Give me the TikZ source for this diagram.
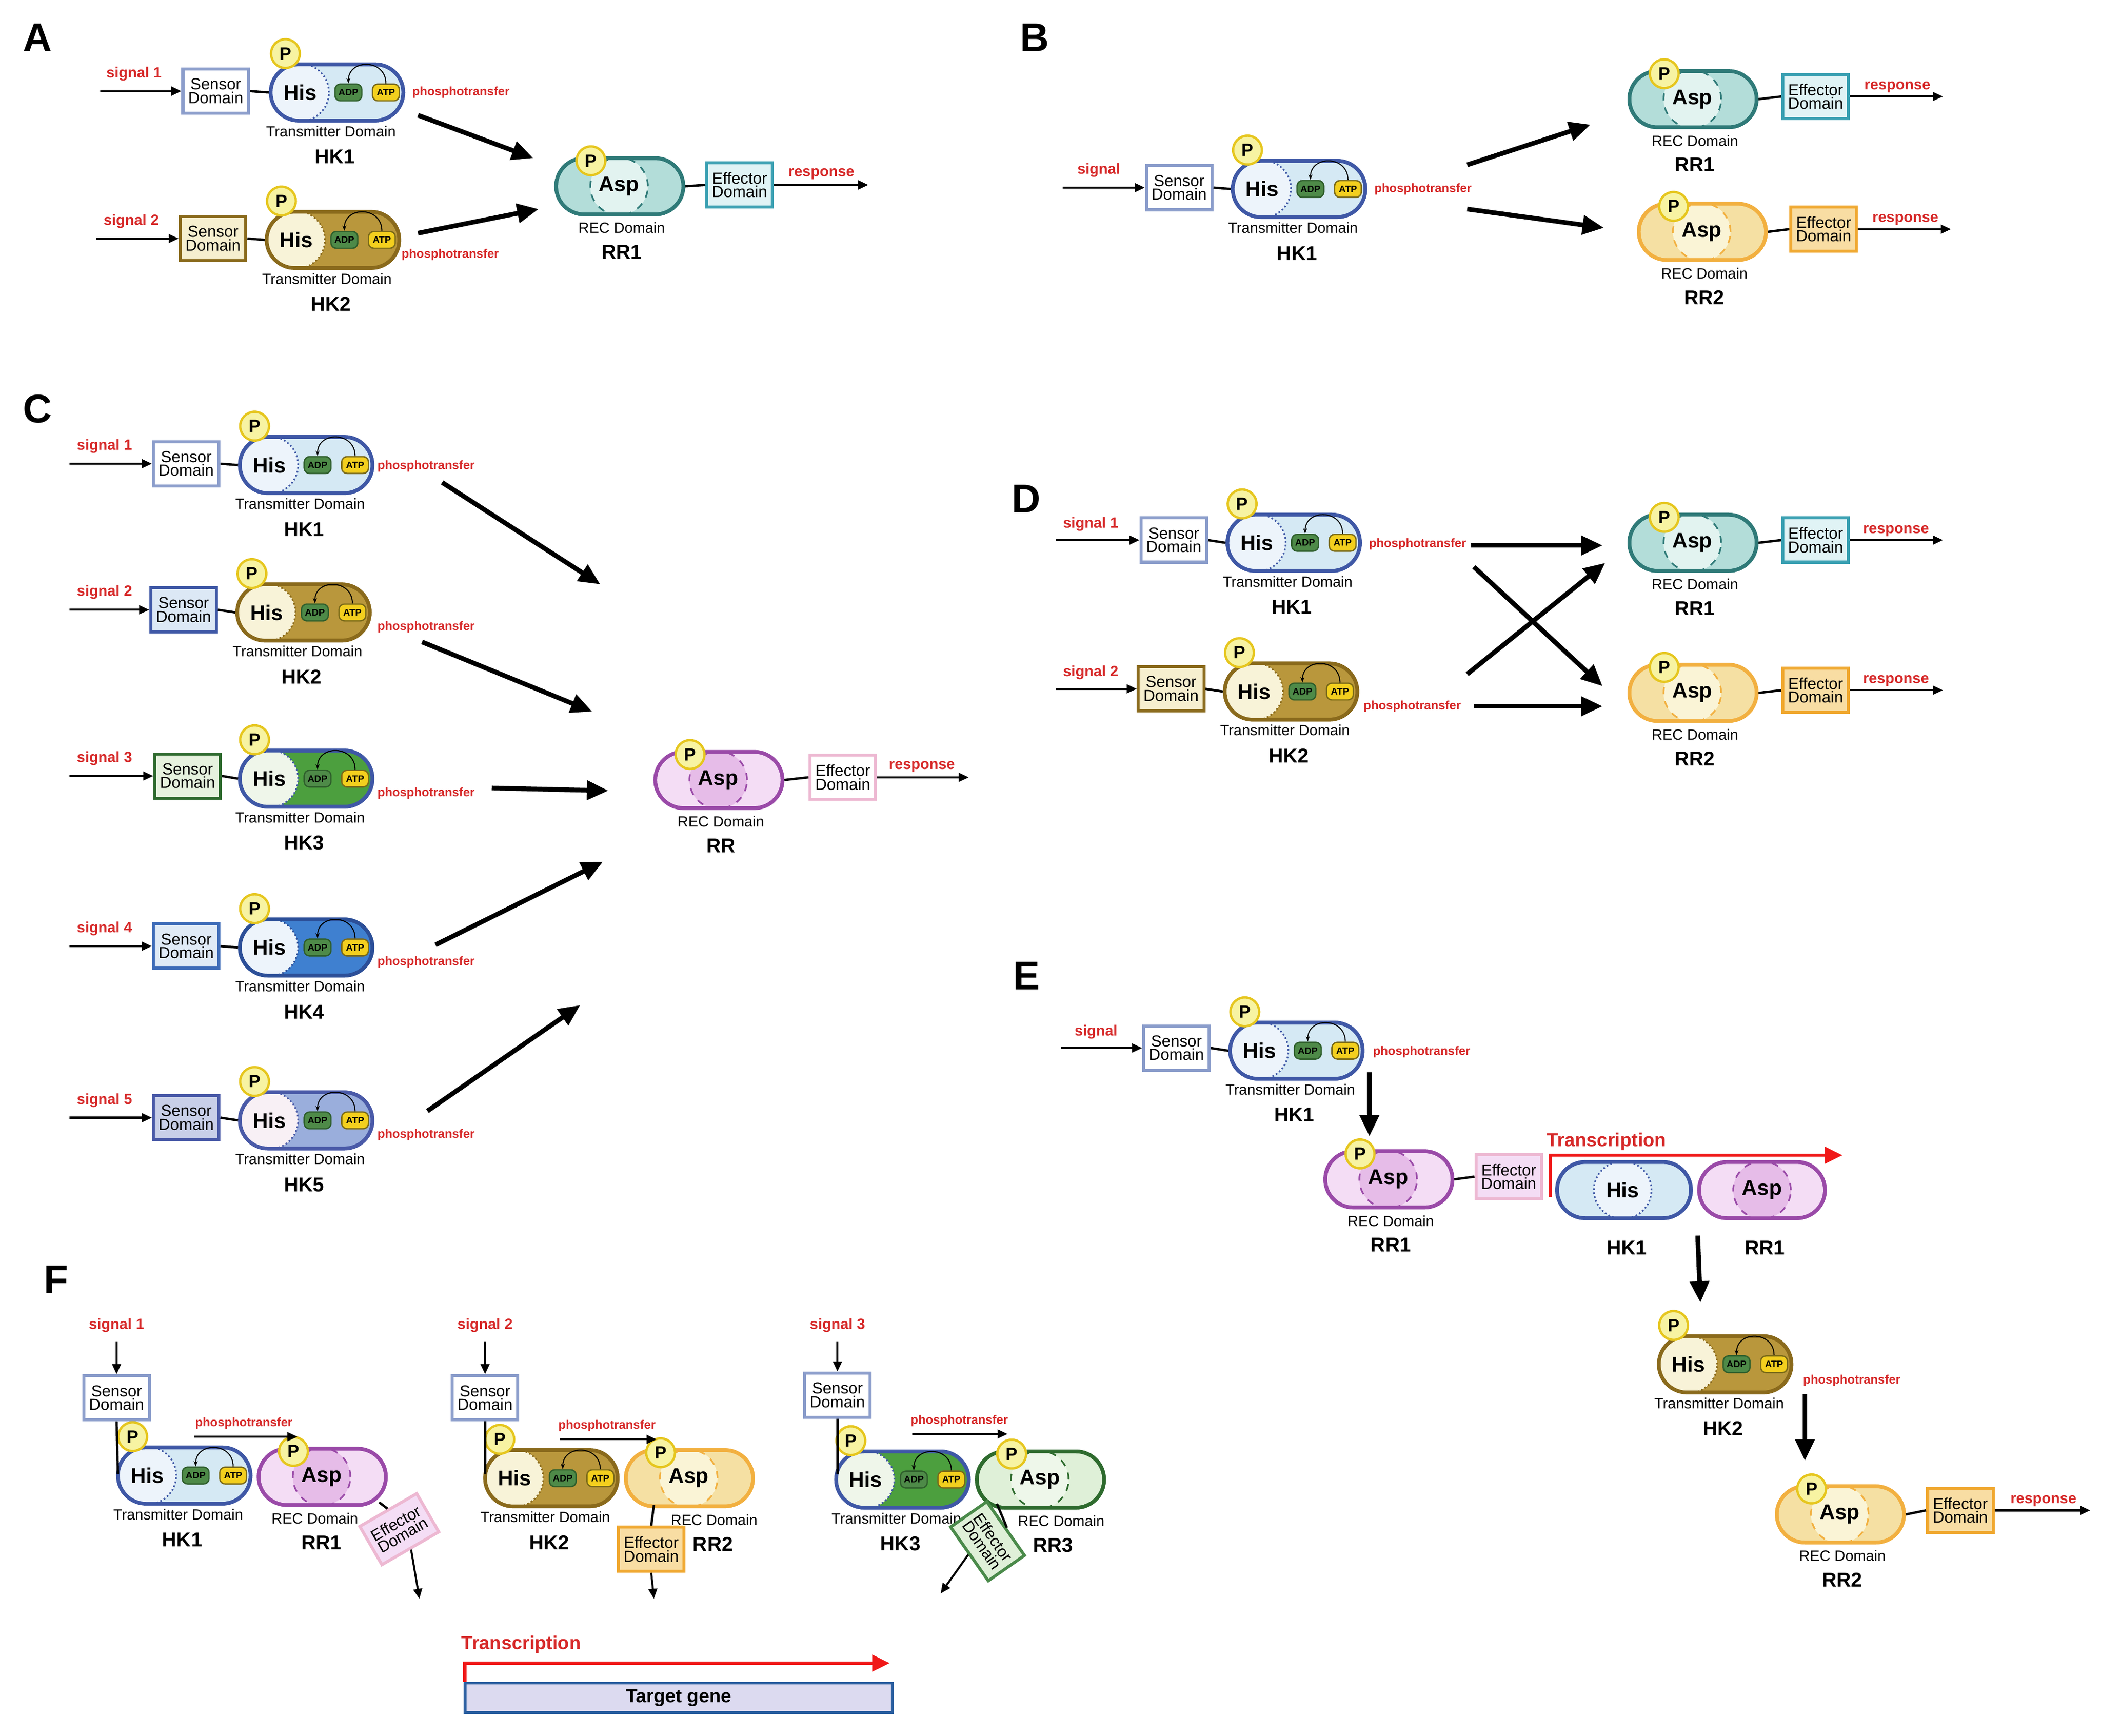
\documentclass[tikz,border=0pt]{standalone}
\usepackage{fontspec}
\setmainfont{Liberation Sans}
\usetikzlibrary{shapes.misc,arrows.meta}
\definecolor{pfill}{HTML}{F7F3A2}\definecolor{pdraw}{HTML}{E6C61E}
\definecolor{adpf}{HTML}{4E8A48}\definecolor{adpd}{HTML}{2F5F2C}
\definecolor{atpf}{HTML}{F3CF1E}\definecolor{atpd}{HTML}{7A6A18}
\definecolor{sred}{HTML}{D62828}\definecolor{tred}{HTML}{F01818}
\definecolor{bluebd}{HTML}{3F58A6}\definecolor{bluef}{HTML}{D5E9F4}\definecolor{bluehis}{HTML}{EDF4FB}
\definecolor{sensbl}{HTML}{8B9DCB}
\definecolor{olbd}{HTML}{8A6A1C}\definecolor{olf}{HTML}{B9973C}\definecolor{olhis}{HTML}{F8F3D8}\definecolor{olsf}{HTML}{F6EFCF}
\definecolor{grf}{HTML}{4C9F3E}\definecolor{grhis}{HTML}{EFF6EA}\definecolor{grsd}{HTML}{2F6B2F}\definecolor{grsf}{HTML}{E6F2DE}
\definecolor{b4f}{HTML}{3F80D0}\definecolor{b4d}{HTML}{2C4F98}\definecolor{b4sd}{HTML}{3E6CB8}\definecolor{b4sf}{HTML}{DFEAF6}
\definecolor{b5f}{HTML}{9AAEDC}\definecolor{b5d}{HTML}{4A5AA8}\definecolor{b5his}{HTML}{F8F0F5}\definecolor{b5sf}{HTML}{C8CFE8}
\definecolor{c2sf}{HTML}{DCE8F5}
\definecolor{tlbd}{HTML}{2F7A78}\definecolor{tlf}{HTML}{B3DDD9}\definecolor{tlasp}{HTML}{E2F3F0}\definecolor{tled}{HTML}{3AA0B2}\definecolor{tlef}{HTML}{E0F3F5}
\definecolor{orbd}{HTML}{F2B040}\definecolor{orf}{HTML}{F5E0A3}\definecolor{orasp}{HTML}{FAF4D6}\definecolor{ored}{HTML}{F0A830}\definecolor{oref}{HTML}{F8DDA3}
\definecolor{pubd}{HTML}{9A4AA8}\definecolor{puf}{HTML}{F4DDF5}\definecolor{puasp}{HTML}{E6BCE8}\definecolor{pued}{HTML}{EDB8D2}
\definecolor{g3bd}{HTML}{2E6B2E}\definecolor{g3f}{HTML}{DFF0D8}\definecolor{g3asp}{HTML}{EEF7EA}\definecolor{g3ed}{HTML}{4A8A4A}
\definecolor{tgf}{HTML}{DCDAF0}\definecolor{tgd}{HTML}{2B5FA0}
\newcommand\fs[1]{\fontsize{#1}{#1}\selectfont}
\tikzset{
 capsule/.style={rounded rectangle, line width=0.55mm, minimum height=8.4mm, inner sep=0pt},
 inner/.style={circle, minimum size=8.6mm, inner sep=0pt, densely dotted, line width=0.25mm, font=\fs{9}\bfseries},
 adp/.style={rounded corners=0.8mm, draw=adpd, fill=adpf, minimum width=4mm, minimum height=2.5mm, inner sep=0pt, font=\fs{4}\bfseries, text=black, line width=0.2mm},
 atp/.style={adp, draw=atpd, fill=atpf},
 pcirc/.style={circle, draw=pdraw, fill=pfill, line width=0.35mm, minimum size=4.3mm, inner sep=0pt, font=\fs{7.5}\bfseries},
 arcarrow/.style={-{Stealth[length=0.8mm,width=0.6mm]}, line width=0.15mm},
 box/.style={draw, line width=0.45mm, minimum width=9.8mm, minimum height=6.6mm, inner sep=0pt, align=center, font=\fs{6.8}},
 small/.style={font=\fs{6.3}},
 lab/.style={font=\fs{8.5}\bfseries},
 rtxt/.style={text=sred, font=\fs{6.3}\bfseries},
 pt/.style={text=sred, font=\fs{5.2}\bfseries},
 link/.style={line width=0.35mm},
 sig/.style={line width=0.3mm, -{Triangle[length=1.5mm,width=1.3mm]}},
 big/.style={line width=0.7mm, -{Triangle[length=3.2mm,width=2.8mm]}},
 tarrow/.style={draw=tred, line width=0.5mm, -{Triangle[length=2.6mm,width=2.4mm]}},
 panel/.style={font=\fs{17}\bfseries},
}
% HK: x y fill border hisfill name label
\newcommand\HK[7]{%
 \node[capsule, fill=#3, draw=#4, minimum width=19.8mm] (#6) at ({#1+49.5},#2) {};
 \node[inner, fill=#5, draw=#4] (#6his) at ({#1+22},#2) {His};
 \node[capsule, draw=#4, minimum width=19.8mm] at ({#1+49.5},#2) {};
 \node[adp] (#6adp) at ({#1+58},#2) {ADP};
 \node[atp] (#6atp) at ({#1+86},#2) {ATP};
 \draw[arcarrow] (#6atp.north) to[out=90,in=90,looseness=1.7] (#6adp.north);
 \node[pcirc] (#6p) at ({#1+11},{#2-29}) {P};
 \node[small] (#6td) at ({#1+45},{#2+29}) {Transmitter Domain};
 \node[lab] (#6lab) at ({#1+48},{#2+48}) {#7};}
\def\recdx{49}\def\labdx{49}
% RR: x y fill border aspfill name label
\newcommand\RR[7]{%
 \node[capsule, fill=#3, draw=#4, minimum width=19mm] (#6) at ({#1+47.5},#2) {};
 \node[inner, fill=#5, draw=#4, dashed] (#6asp) at ({#1+47},#2) {Asp};
 \node[capsule, draw=#4, minimum width=19mm] at ({#1+47.5},#2) {};
 \node[pcirc] (#6p) at ({#1+26},{#2-19}) {P};
 \node[small] (#6rec) at ({#1+\recdx},{#2+31}) {REC Domain};
 \node[lab] (#6lab) at ({#1+\labdx},{#2+49}) {#7};}
\newcommand\Sensor[5]{\node[box, draw=#4, fill=#5] (#1) at (#2,#3) {Sensor\\[-1pt]Domain};}
\newcommand\Eff[5]{\node[box, draw=#4, fill=#5] (#1) at (#2,#3) {Effector\\[-1pt]Domain};}
\begin{document}
\begin{tikzpicture}[x=0.02cm,y=-0.02cm]
\useasboundingbox (0,0) rectangle (1568,1295);
% ===== A =====
\node[panel] (pA) at (28,28) {A};
\Sensor{aS1}{161}{68}{sensbl}{white}
\HK{202}{69}{bluef}{bluebd}{bluehis}{aH1}{HK1}
\draw[link] (aS1.east) -- (aH1.west);
\coordinate (aI1) at (75,68); \draw[sig] (aI1) -- (aS1.west);
\node[rtxt] (aL1) at (100,55) {signal 1};
\node[pt] (aP1) at (344,69) {phosphotransfer};
\Sensor{aS2}{159}{178}{olbd}{olsf}
\HK{199}{179}{olf}{olbd}{olhis}{aH2}{HK2}
\draw[link] (aS2.east) -- (aH2.west);
\coordinate (aI2) at (72,178); \draw[sig] (aI2) -- (aS2.west);
\node[rtxt] (aL2) at (98,165) {signal 2};
\node[pt] (aP2) at (336,190) {phosphotransfer};
\RR{415}{139}{tlf}{tlbd}{tlasp}{aR1}{RR1}
\Eff{aE1}{552}{138}{tled}{tlef}
\draw[link] (aR1.east) -- (aE1.west);
\coordinate (aO1) at (648,138); \draw[sig] (aE1.east) -- (aO1);
\node[rtxt] (aO1l) at (613,130) {response};
\coordinate (aa1) at (312,86); \coordinate (aa2) at (398,118);
\coordinate (aa3) at (312,174); \coordinate (aa4) at (402,156);
\draw[big] (aa1) -- (aa2); \draw[big] (aa3) -- (aa4);
% ===== B =====
\node[panel] (pB) at (772,28) {B};
\Sensor{bS1}{880}{140}{sensbl}{white}
\HK{920}{141}{bluef}{bluebd}{bluehis}{bH1}{HK1}
\draw[link] (bS1.east) -- (bH1.west);
\coordinate (bI1) at (793,140); \draw[sig] (bI1) -- (bS1.west);
\node[rtxt] (bL1) at (820,127) {signal};
\node[pt] (bP1) at (1062,141) {phosphotransfer};
\RR{1216}{74}{tlf}{tlbd}{tlasp}{bR1}{RR1}
\Eff{bE1}{1355}{72}{tled}{tlef}
\draw[link] (bR1.east) -- (bE1.west);
\coordinate (bO1) at (1450,72); \draw[sig] (bE1.east) -- (bO1);
\node[rtxt] at (1416,65) {response};
\RR{1223}{173}{orf}{orbd}{orasp}{bR2}{RR2}
\Eff{bE2}{1361}{171}{ored}{oref}
\draw[link] (bR2.east) -- (bE2.west);
\coordinate (bO2) at (1456,171); \draw[sig] (bE2.east) -- (bO2);
\node[rtxt] at (1422,164) {response};
\coordinate (ba1) at (1095,123); \coordinate (ba2) at (1187,93);
\coordinate (ba3) at (1095,156); \coordinate (ba4) at (1197,170);
\draw[big] (ba1) -- (ba2); \draw[big] (ba3) -- (ba4);
% ===== C =====
\node[panel] (pC) at (28,305) {C};
\Sensor{cS1}{139}{346}{sensbl}{white}
\HK{179}{347}{bluef}{bluebd}{bluehis}{cH1}{HK1}
\Sensor{cS2}{137}{455}{bluebd}{c2sf}
\HK{177}{457}{olf}{olbd}{olhis}{cH2}{HK2}
\Sensor{cS3}{140}{579}{grsd}{grsf}
\HK{179}{581}{grf}{bluebd}{grhis}{cH3}{HK3}
\Sensor{cS4}{139}{706}{b4sd}{b4sf}
\HK{179}{707}{b4f}{b4d}{bluehis}{cH4}{HK4}
\Sensor{cS5}{139}{834}{b5d}{b5sf}
\HK{179}{836}{b5f}{b5d}{b5his}{cH5}{HK5}
\foreach \i/\y/\py in {1/346/348,2/455/468,3/579/592,4/706/718,5/834/847}{
 \draw[link] (cS\i.east) -- (cH\i.west);
 \coordinate (cI\i) at (52,\y); \draw[sig] (cI\i) -- (cS\i.west);
 \node[rtxt] (cL\i) at (78,{\y-13}) {signal \i};
 \node[pt] (cP\i) at (318,\py) {phosphotransfer};}
\RR{489}{582}{puf}{pubd}{puasp}{cR}{RR}
\Eff{cE}{629}{580}{pued}{white}
\draw[link] (cR.east) -- (cE.west);
\coordinate (cO) at (723,580); \draw[sig] (cE.east) -- (cO);
\node[rtxt] at (688,572) {response};
\coordinate (ca1) at (330,360); \coordinate (ca2) at (448,436);
\coordinate (ca3) at (315,479); \coordinate (ca4) at (442,531);
\coordinate (ca5) at (367,588); \coordinate (ca6) at (454,590);
\coordinate (ca7) at (325,705); \coordinate (ca8) at (450,643);
\coordinate (ca9) at (319,829); \coordinate (ca10) at (433,750);
\draw[big] (ca1) -- (ca2); \draw[big] (ca3) -- (ca4); \draw[big] (ca5) -- (ca6);
\draw[big] (ca7) -- (ca8); \draw[big] (ca9) -- (ca10);
% ===== D =====
\node[panel] (pD) at (766,372) {D};
\Sensor{dS1}{876}{403}{sensbl}{white}
\HK{916}{405}{bluef}{bluebd}{bluehis}{dH1}{HK1}
\Sensor{dS2}{874}{514}{olbd}{olsf}
\HK{914}{516}{olf}{olbd}{olhis}{dH2}{HK2}
\foreach \i/\y/\px/\py in {1/403/1058/406,2/514/1054/527}{
 \draw[link] (dS\i.east) -- (dH\i.west);
 \coordinate (dI\i) at (788,\y); \draw[sig] (dI\i) -- (dS\i.west);
 \node[rtxt] (dL\i) at (814,{\y-12}) {signal \i};
 \node[pt] (dP\i) at (\px,\py) {phosphotransfer};}
\RR{1216}{405}{tlf}{tlbd}{tlasp}{dR1}{RR1}
\Eff{dE1}{1355}{403}{tled}{tlef}
\RR{1216}{517}{orf}{orbd}{orasp}{dR2}{RR2}
\Eff{dE2}{1355}{515}{ored}{oref}
\foreach \i/\y in {1/403,2/515}{
 \draw[link] (dR\i.east) -- (dE\i.west);
 \coordinate (dO\i) at (1450,\y); \draw[sig] (dE\i.east) -- (dO\i);
 \node[rtxt] at (1415,{\y-7}) {response};}
\coordinate (da1) at (1098,407); \coordinate (da2) at (1196,407);
\coordinate (da3) at (1100,423); \coordinate (da4) at (1196,512);
\coordinate (da5) at (1095,503); \coordinate (da6) at (1198,420);
\coordinate (da7) at (1100,527); \coordinate (da8) at (1196,527);
\draw[big] (da1) -- (da2); \draw[big] (da3) -- (da4); \draw[big] (da5) -- (da6); \draw[big] (da7) -- (da8);
% ===== E =====
\node[panel] (pE) at (766,728) {E};
\Sensor{eS1}{878}{782}{sensbl}{white}
\HK{918}{784}{bluef}{bluebd}{bluehis}{eH1}{HK1}
\draw[link] (eS1.east) -- (eH1.west);
\coordinate (eI1) at (792,782); \draw[sig] (eI1) -- (eS1.west);
\node[rtxt] at (818,770) {signal};
\node[pt] (eP1) at (1061,785) {phosphotransfer};
\coordinate (ea1) at (1022,800); \coordinate (ea2) at (1022,848);
\draw[big] (ea1) -- (ea2);
\RR{989}{880}{puf}{pubd}{puasp}{eR1}{RR1}
\Eff{eE1}{1126}{878}{pued}{puf}
\draw[link] (eR1.east) -- (eE1.west);
\coordinate (et1) at (1157,893); \coordinate (et2) at (1375,862);
\draw[tarrow] (et1) |- (et2);
\node[rtxt, font=\fs{8}\bfseries] at (1199,852) {Transcription};
\node[capsule, fill=bluef, draw=bluebd, minimum width=20mm] (eG1) at (1212,888) {};
\node[inner, fill=bluehis, draw=bluebd] (eG1his) at (1211,888) {His};
\node[capsule, draw=bluebd, minimum width=20mm] at (1212,888) {};
\node[lab] at (1214,931) {HK1};
\node[capsule, fill=puf, draw=pubd, minimum width=18.8mm] (eG2) at (1315,888) {};
\node[inner, fill=puasp, draw=pubd, dashed] (eG2asp) at (1315,888) {Asp};
\node[capsule, draw=pubd, minimum width=18.8mm] at (1315,888) {};
\node[lab] at (1317,931) {RR1};
\coordinate (ea3) at (1267,922); \coordinate (ea4) at (1269,972);
\draw[big] (ea3) -- (ea4);
\HK{1238}{1018}{olf}{olbd}{olhis}{eH2}{HK2}
\node[pt] at (1382,1030) {phosphotransfer};
\coordinate (ea5) at (1347,1040); \coordinate (ea6) at (1347,1090);
\draw[big] (ea5) -- (ea6);
\RR{1326}{1130}{orf}{orbd}{orasp}{eR2}{RR2}
\Eff{eE2}{1463}{1127}{ored}{oref}
\draw[link] (eR2.east) -- (eE2.west);
\coordinate (eO2) at (1560,1127); \draw[sig] (eE2.east) -- (eO2);
\node[rtxt] at (1525,1120) {response};
% ===== F =====
\node[panel] (pF) at (42,955) {F};
\Sensor{fS1}{87}{1043}{sensbl}{white}
\HK{88}{1101}{bluef}{bluebd}{bluehis}{fH1}{HK1}
\def\recdx{42}\def\labdx{47}
\RR{193}{1102}{puf}{pubd}{puasp}{fR1}{RR1}
\node[box, draw=pued, fill=puf, rotate=30] (fE1) at (298,1141) {Effector\\[-1pt]Domain};
\Sensor{fS2}{362}{1043}{sensbl}{white}
\HK{362}{1103}{olf}{olbd}{olhis}{fH2}{HK2}
\def\recdx{66}\def\labdx{65}
\RR{467}{1103}{orf}{orbd}{orasp}{fR2}{RR2}
\Eff{fE2}{486}{1156}{ored}{oref}
\Sensor{fS3}{625}{1041}{sensbl}{white}
\HK{624}{1104}{grf}{bluebd}{grhis}{fH3}{HK3}
\def\recdx{63}\def\labdx{57}
\RR{729}{1104}{g3f}{g3bd}{g3asp}{fR3}{RR3}
\foreach \i/\x/\sx/\px/\pa/\pb/\py in {1/88/87/182/145/222/1072, 2/362/362/453/418/490/1074, 3/625/625/716/681/752/1070}{
 \coordinate (fI\i) at (\sx,1001); \draw[sig] (fI\i) -- (fS\i.north);
 \node[rtxt] at (\sx,989) {signal \i};
 \coordinate (fC\i) at (\x,1100);
 \draw[link] (fS\i.south) -- (fC\i);
 \node[pt] at (\px,{\py-10}) {phosphotransfer};
 \coordinate (fpa\i) at (\pa,\py); \coordinate (fpb\i) at (\pb,\py);
 \draw[sig] (fpa\i) -- (fpb\i);}
\coordinate (fr1) at (283,1121); \draw[link] (fr1) -- (fE1.north);
\coordinate (fo1) at (313,1193); \draw[sig] (fE1.south) -- (fo1);
\coordinate (fr2) at (488,1123); \draw[link] (fr2) -- (fE2.north);
\coordinate (fo2) at (488,1193); \draw[sig] (fE2.south) -- (fo2);
\node[box, draw=g3ed, fill=g3f, rotate=-55] (fE3) at (737,1150) {Effector\\[-1pt]Domain};
\coordinate (fr3) at (744,1122); \draw[link] (fr3) -- (fE3.north);
\coordinate (fo3) at (702,1189); \draw[sig] (fE3.south) -- (fo3);
\coordinate (ft1) at (347,1255); \coordinate (ft2) at (664,1241);
\draw[tarrow] (ft1) |- (ft2);
\node[rtxt, font=\fs{8}\bfseries] at (389,1227) {Transcription};
\node[draw=tgd, fill=tgf, line width=0.4mm, minimum width=63.8mm, minimum height=4.4mm, inner sep=0pt, font=\fs{8}\bfseries] (tg) at (506.5,1267) {Target gene};
\end{tikzpicture}
\end{document}
